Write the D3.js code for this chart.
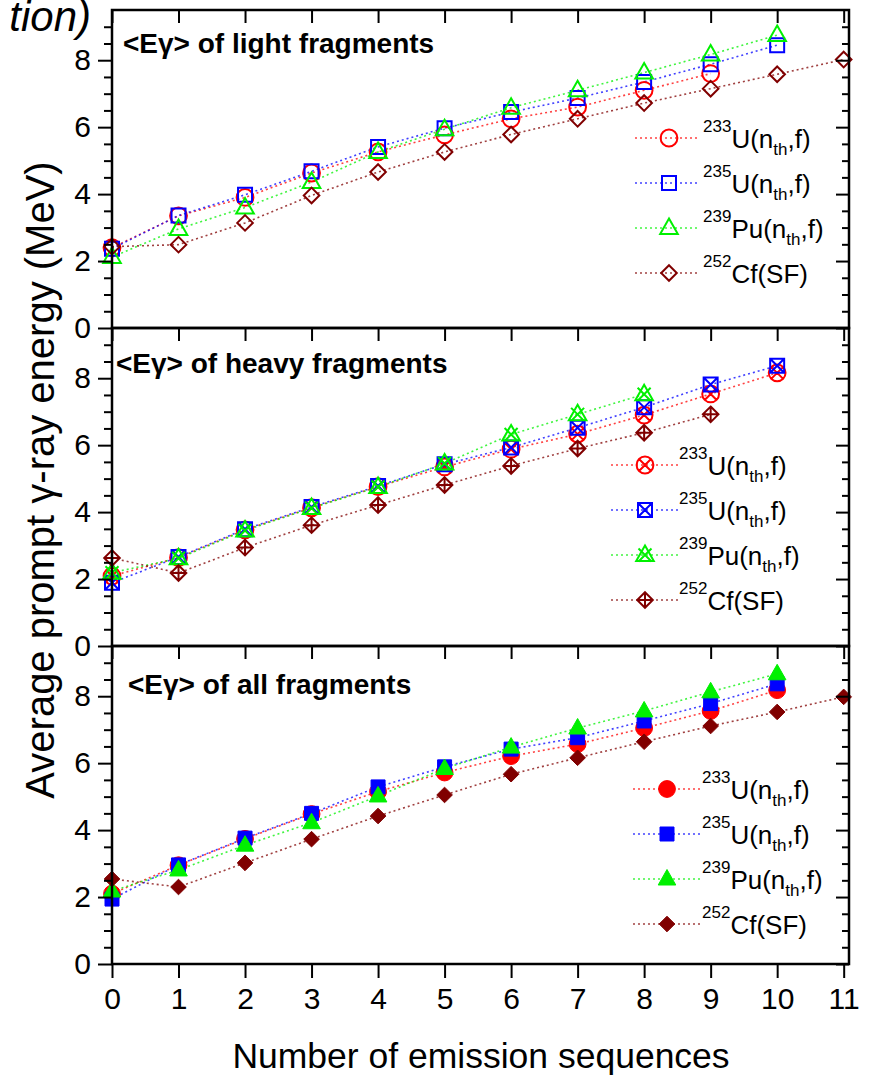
<!DOCTYPE html>
<html>
<head>
<meta charset="utf-8">
<script src="https://cdn.jsdelivr.net/npm/d3@7"></script>
<style>
    body { margin: 0; background: #fff; }
    svg { font-family: Arial, "Liberation Sans", sans-serif; }
    .tick line { stroke: #000; stroke-width: 2; }
    .tick text { fill: #000; font-size: 30px; }
</style>
</head>
<body>
<div id="chart"></div>
<script>
    // emission sequence index
    var steps = [0, 1, 2, 3, 4, 5, 6, 7, 8, 9, 10, 11];
    var yMajor = [0, 2, 4, 6, 8];
    var yMinor = [0.5, 1, 1.5, 2.5, 3, 3.5, 4.5, 5, 5.5, 6.5, 7, 7.5, 8.5, 9];

    // <Eg> of light fragments (MeV)
    var u233Light = [2.40, 3.35, 3.90, 4.63, 5.26, 5.77, 6.25, 6.60, 7.10, 7.60];
    var u235Light = [2.37, 3.36, 3.98, 4.68, 5.41, 5.97, 6.45, 6.87, 7.35, 7.88, 8.45];
    var pu239Light = [2.12, 2.96, 3.60, 4.36, 5.26, 5.94, 6.58, 7.10, 7.63, 8.17, 8.75];
    var cf252Light = [2.43, 2.49, 3.14, 3.96, 4.66, 5.26, 5.78, 6.25, 6.72, 7.15, 7.58, 8.02];

    // <Eg> of heavy fragments
    var u233Heavy = [2.09, 2.64, 3.47, 4.13, 4.76, 5.35, 5.88, 6.33, 6.90, 7.53, 8.16];
    var u235Heavy = [1.89, 2.66, 3.49, 4.15, 4.78, 5.43, 5.93, 6.52, 7.13, 7.81, 8.37];
    var pu239Heavy = [2.19, 2.62, 3.45, 4.12, 4.75, 5.45, 6.32, 6.92, 7.52];
    var cf252Heavy = [2.63, 2.18, 2.94, 3.61, 4.21, 4.81, 5.38, 5.90, 6.37, 6.92];

    // <Eg> of all fragments
    var u233All = [2.10, 2.95, 3.74, 4.48, 5.15, 5.72, 6.21, 6.57, 7.05, 7.56, 8.18];
    var u235All = [1.94, 2.96, 3.76, 4.50, 5.29, 5.89, 6.42, 6.76, 7.26, 7.78, 8.37];
    var pu239All = [2.18, 2.81, 3.55, 4.22, 5.02, 5.84, 6.48, 7.05, 7.56, 8.13, 8.67];
    var cf252All = [2.54, 2.30, 3.02, 3.73, 4.42, 5.05, 5.67, 6.16, 6.64, 7.11, 7.53, 7.98];

    (function() {
        'use strict';

        var width = 871, height = 1076;
        var plotLeft = 112, plotRight = 849, plotTop = 10, panelH = 318;
        var colors = ["#ff0000", "#0000ff", "#00f000", "#800000"];

        var svg = d3.select("#chart").append("svg")
            .attr("width", width)
            .attr("height", height);

        var x = d3.scaleLinear().domain([0, 11.08]).range([plotLeft, plotRight]);

        // marker outlines
        var markerPath = function(shape, deco) {
            var p = d3.path();
            if (shape === "circle") { p.moveTo(8.4, 0); p.arc(0, 0, 8.4, 0, 2 * Math.PI); }
            if (shape === "square") { p.rect(-7, -7, 14, 14); }
            if (shape === "triangle") { p.moveTo(0, -9.5); p.lineTo(8.8, 6); p.lineTo(-8.8, 6); p.closePath(); }
            if (shape === "diamond") { p.moveTo(0, -7.8); p.lineTo(7.8, 0); p.lineTo(0, 7.8); p.lineTo(-7.8, 0); p.closePath(); }
            if (deco === "x") {
                var k = shape === "square" ? 7 : 6.5;
                p.moveTo(-k, -k); p.lineTo(k, k); p.moveTo(k, -k); p.lineTo(-k, k);
            }
            if (deco === "+") {
                p.moveTo(0, -7.8); p.lineTo(0, 7.8); p.moveTo(-7.8, 0); p.lineTo(7.8, 0);
            }
            return p.toString();
        };
        var shapes = ["circle", "square", "triangle", "diamond"];

        var panels = [
            { label: " of light fragments", series: [u233Light, u235Light, pu239Light, cf252Light],
              fill: false, deco: [null, null, null, null], titleX: 123, titleDy: 43,
              leg: { x0: 635, m: 669, x1: 700, tx: 703, dy: 128 } },
            { label: " of heavy fragments", series: [u233Heavy, u235Heavy, pu239Heavy, cf252Heavy],
              fill: false, deco: ["x", "x", "x", "+"], titleX: 116, titleDy: 45,
              leg: { x0: 611, m: 645, x1: 678, tx: 679, dy: 137 } },
            { label: " of all fragments", series: [u233All, u235All, pu239All, cf252All],
              fill: true, deco: [null, null, null, null], titleX: 128, titleDy: 48,
              leg: { x0: 633, m: 667, x1: 700, tx: 702, dy: 143 } }
        ];

        var legendText = [
            { sup: "233", main: "U(n", sub: "th", tail: ",f)" },
            { sup: "235", main: "U(n", sub: "th", tail: ",f)" },
            { sup: "239", main: "Pu(n", sub: "th", tail: ",f)" },
            { sup: "252", main: "Cf(SF)", sub: "", tail: "" }
        ];

        panels.forEach(function(panel, pi) {
            var y0 = plotTop + pi * panelH;
            var y = d3.scaleLinear().domain([0, 9.5]).range([y0 + panelH, y0]);
            var g = svg.append("g");

            // dotted connecting lines
            var line = d3.line()
                .x(function(d, i) { return x(steps[i]); })
                .y(function(d) { return y(d); });
            panel.series.forEach(function(vals, si) {
                g.append("path")
                    .datum(vals)
                    .attr("d", line)
                    .attr("fill", "none")
                    .attr("stroke", colors[si])
                    .attr("stroke-opacity", 0.75)
                    .attr("stroke-width", 1.6)
                    .attr("stroke-dasharray", "2,3");
            });

            // markers
            panel.series.forEach(function(vals, si) {
                g.selectAll(null)
                    .data(vals)
                    .enter()
                    .append("path")
                    .attr("transform", function(d, i) { return "translate(" + x(steps[i]) + "," + y(d) + ")"; })
                    .attr("d", markerPath(shapes[si], panel.deco[si]))
                    .attr("fill", panel.fill ? colors[si] : "none")
                    .attr("stroke", colors[si])
                    .attr("stroke-width", panel.fill ? 1 : 2);
            });

            // frame
            g.append("rect")
                .attr("x", plotLeft).attr("y", y0)
                .attr("width", plotRight - plotLeft).attr("height", panelH)
                .attr("fill", "none").attr("stroke", "#000").attr("stroke-width", 2.5);

            // left axis (outward ticks + labels)
            g.append("g").attr("transform", "translate(" + plotLeft + ",0)")
                .call(d3.axisLeft(y).tickValues(yMajor).tickSize(14).tickPadding(7).tickFormat(d3.format("d")))
                .call(function(a) { a.select(".domain").remove(); });
            g.append("g").attr("transform", "translate(" + plotLeft + ",0)")
                .call(d3.axisLeft(y).tickValues(yMinor).tickSize(8).tickFormat(""))
                .call(function(a) { a.select(".domain").remove(); });

            // right axis, inward ticks
            g.append("g").attr("transform", "translate(" + plotRight + ",0)")
                .call(d3.axisLeft(y).tickValues(yMajor).tickSize(13).tickFormat(""))
                .call(function(a) { a.select(".domain").remove(); });
            g.append("g").attr("transform", "translate(" + plotRight + ",0)")
                .call(d3.axisLeft(y).tickValues(yMinor).tickSize(7).tickFormat(""))
                .call(function(a) { a.select(".domain").remove(); });

            // top axis, inward ticks
            g.append("g").attr("transform", "translate(0," + y0 + ")")
                .call(d3.axisBottom(x).tickValues(steps).tickSize(13).tickFormat(""))
                .call(function(a) { a.select(".domain").remove(); });

            // bottom axis only on last panel
            if (pi === panels.length - 1) {
                g.append("g").attr("transform", "translate(0," + (y0 + panelH) + ")")
                    .call(d3.axisBottom(x).tickValues(steps).tickSize(14).tickPadding(10).tickFormat(d3.format("d")))
                    .call(function(a) { a.select(".domain").remove(); });
            }

            // panel title
            var title = g.append("text")
                .attr("x", panel.titleX)
                .attr("y", y0 + panel.titleDy)
                .attr("font-size", 28)
                .attr("font-weight", "bold");
            title.append("tspan").text("<E\u03b3>");
            title.append("tspan").text(panel.label);

            // legend
            legendText.forEach(function(lt, li) {
                var ly = y0 + panel.leg.dy + li * 45;
                g.append("line")
                    .attr("x1", panel.leg.x0).attr("x2", panel.leg.x1)
                    .attr("y1", ly).attr("y2", ly)
                    .attr("stroke", colors[li])
                    .attr("stroke-opacity", 0.75)
                    .attr("stroke-width", 1.6)
                    .attr("stroke-dasharray", "2,3");
                g.append("path")
                    .attr("transform", "translate(" + panel.leg.m + "," + ly + ")")
                    .attr("d", markerPath(shapes[li], panel.deco[li]))
                    .attr("fill", panel.fill ? colors[li] : "none")
                    .attr("stroke", colors[li])
                    .attr("stroke-width", panel.fill ? 1 : 2);
                var t = g.append("text")
                    .attr("x", panel.leg.tx)
                    .attr("y", ly + 10)
                    .attr("font-size", 26);
                t.append("tspan").attr("font-size", 17).attr("dy", -16).text(lt.sup);
                t.append("tspan").attr("dy", 16).text(lt.main);
                if (lt.sub) {
                    t.append("tspan").attr("font-size", 17).attr("dy", 7).text(lt.sub);
                    t.append("tspan").attr("dy", -7).text(lt.tail);
                }
            });
        });

        // axis titles
        svg.append("text")
            .attr("x", 481).attr("y", 1068)
            .attr("text-anchor", "middle")
            .attr("font-size", 35.5)
            .text("Number of emission sequences");

        svg.append("text")
            .attr("transform", "translate(54,480) rotate(-90)")
            .attr("text-anchor", "middle")
            .attr("font-size", 40)
            .text("Average prompt \u03b3-ray energy (MeV)");

        // clipped caption fragment from the page above
        svg.append("text")
            .attr("x", 91).attr("y", 31)
            .attr("text-anchor", "end")
            .attr("font-size", 42)
            .attr("font-style", "italic")
            .text("tion)");
    })();
</script>
</body>
</html>
